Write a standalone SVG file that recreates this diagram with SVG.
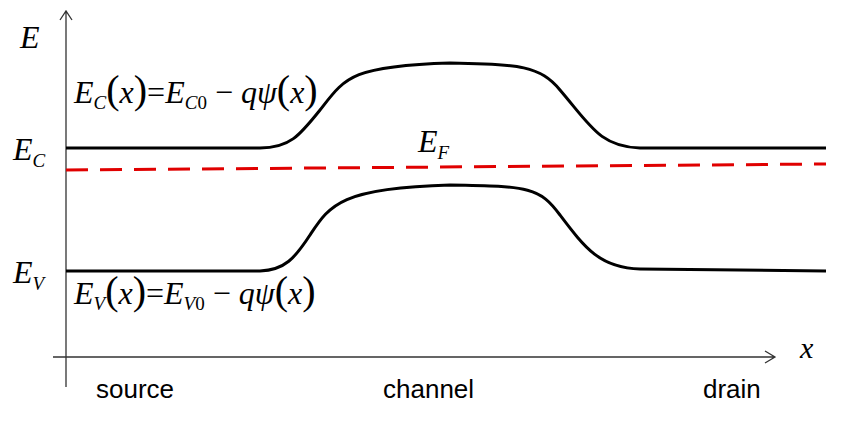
<svg xmlns="http://www.w3.org/2000/svg" width="847" height="421" viewBox="0 0 847 421">
<style>
.m{font-family:"Liberation Serif",serif;font-style:italic;fill:#000}
.s{font-family:"Liberation Sans",Arial,sans-serif;font-size:26px;fill:#000}
.band{fill:none;stroke:#000;stroke-width:3}
.ax{fill:none;stroke:#333;stroke-width:1.3}
</style>
<rect width="847" height="421" fill="#fff"/>
<g id="axes">
<path class="ax" d="M66,387 V11 M60,20 L66,11 L72,20"/>
<path class="ax" d="M53,357 H775 M765,351 L775,357 L765,363"/>
</g>
<g id="connectors">
<path class="band" d="M66,148 H260 C290,148 300,135 320,110 C345,78 350,66 450,63 C520,64 540,66 560,90 C590,125 600,147 640,148 H826"/>
<path class="band" d="M66,271 H260 C285,270 295,258 310,235 C330,205 340,188 450,185 C530,186 540,188 560,215 C585,248 600,268 640,269 L826,271"/>
<path d="M66,170 L826,164" fill="none" stroke="#e00000" stroke-width="3" stroke-dasharray="22,12"/>
</g>
<g id="labels">
<text class="m" x="20" y="48" font-size="32">E</text>
<text class="m" x="13" y="160" font-size="32">E<tspan font-size="19" dy="7">C</tspan></text>
<text class="m" x="13" y="283" font-size="32">E<tspan font-size="19" dy="7">V</tspan></text>
<text class="m" x="418" y="152" font-size="32">E<tspan font-size="19" dy="7">F</tspan></text>
<text class="m" x="800" y="358" font-size="30">x</text>
<text class="m" x="74" y="103" font-size="32">E<tspan font-size="19" dy="6">C</tspan><tspan font-style="normal" font-size="40" dy="-6">(</tspan>x<tspan font-style="normal" font-size="40">)</tspan><tspan font-style="normal">=</tspan>E<tspan font-size="19" dy="6">C</tspan><tspan font-style="normal" font-size="19">0</tspan><tspan font-style="normal" dy="-6"> − </tspan>qψ<tspan font-style="normal" font-size="40">(</tspan>x<tspan font-style="normal" font-size="40">)</tspan></text>
<text class="m" x="74" y="304" font-size="32">E<tspan font-size="19" dy="6">V</tspan><tspan font-style="normal" font-size="40" dy="-6">(</tspan>x<tspan font-style="normal" font-size="40">)</tspan><tspan font-style="normal">=</tspan>E<tspan font-size="19" dy="6">V</tspan><tspan font-style="normal" font-size="19">0</tspan><tspan font-style="normal" dy="-6"> − </tspan>qψ<tspan font-style="normal" font-size="40">(</tspan>x<tspan font-style="normal" font-size="40">)</tspan></text>
<text class="s" x="96" y="398">source</text>
<text class="s" x="383" y="398">channel</text>
<text class="s" x="703" y="398">drain</text>
</g>
</svg>
